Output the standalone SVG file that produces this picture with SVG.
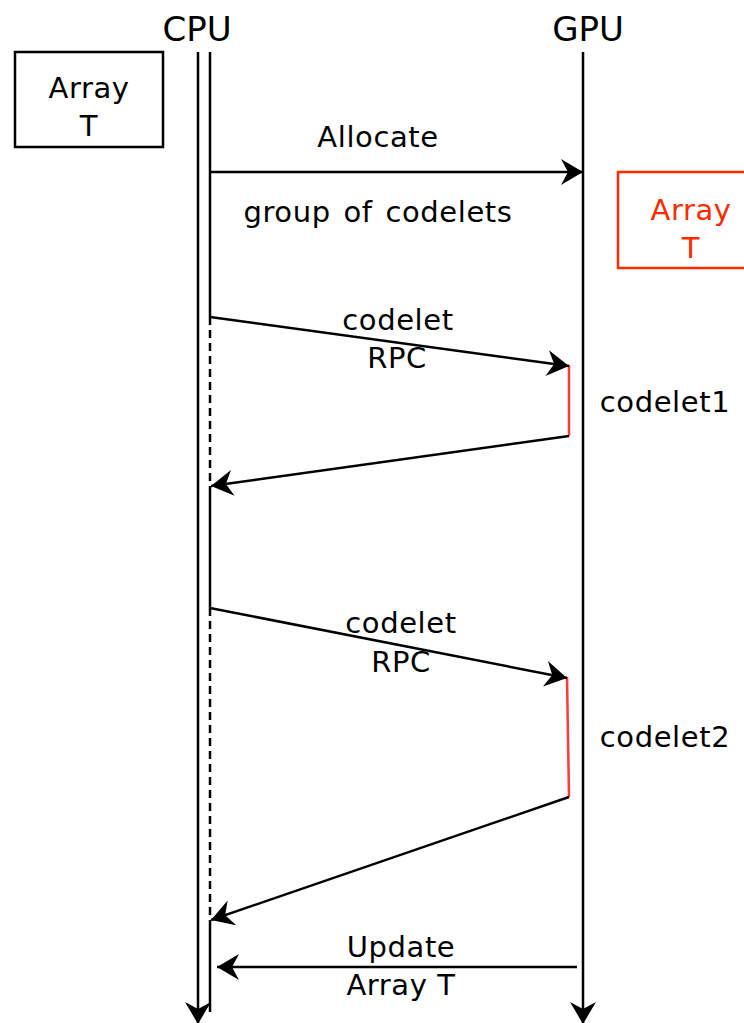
<svg xmlns="http://www.w3.org/2000/svg" width="744" height="1023" viewBox="0 0 744 1023">
<style>
  text { font-family: "DejaVu Sans", "Liberation Sans", sans-serif; font-size: 29px; letter-spacing: 0.6px; fill: #000; text-anchor: middle; }
  .title { font-size: 34px; letter-spacing: 0; }
  .red { fill: #ff2a00; }
  .ln { stroke: #000; stroke-width: 2.5; fill: none; }
  .arr { stroke: #000; stroke-width: 2.5; fill: none; marker-end: url(#ah); }
  .dash { stroke: #000; stroke-width: 2.5; fill: none; stroke-dasharray: 8 5; }
  .act { stroke: #ff3b3b; stroke-width: 2.5; fill: none; }
  .box { fill: #fff; stroke: #000; stroke-width: 2.5; }
  .rbox { fill: #fff; stroke: #ff2a00; stroke-width: 2.5; }
</style>
<defs>
  <marker id="ah" markerUnits="userSpaceOnUse" markerWidth="26" markerHeight="28" refX="22" refY="13" orient="auto" viewBox="0 0 26 28">
    <path d="M22,13 L0,0 L7,13 L0,26 Z" fill="#000"/>
  </marker>
</defs>

<g id="cpu">
  <text class="title" x="197" y="41">CPU</text>
  <line class="arr" x1="198" y1="52" x2="198" y2="1024"/>
  <line class="ln" x1="210" y1="52" x2="210" y2="317"/>
  <line class="dash" x1="210" y1="317" x2="210" y2="486"/>
  <line class="ln" x1="210" y1="486" x2="210" y2="608"/>
  <line class="dash" x1="210" y1="608" x2="210" y2="920"/>
  <line class="ln" x1="210" y1="920" x2="210" y2="1012"/>
</g>

<g id="gpu">
  <text class="title" x="588" y="41">GPU</text>
  <line class="arr" x1="583" y1="52" x2="583" y2="1024"/>
</g>

<g id="array-cpu">
  <rect class="box" x="15" y="52" width="148" height="95"/>
  <text x="89" y="98">Array</text>
  <text x="89" y="136">T</text>
</g>

<g id="array-gpu">
  <rect class="rbox" x="618" y="172" width="144" height="96"/>
  <text class="red" x="691" y="220">Array</text>
  <text class="red" x="691" y="258">T</text>
</g>

<g id="activation1">
  <line class="act" x1="569" y1="365" x2="569" y2="436"/>
  <text x="665" y="412">codelet1</text>
</g>

<g id="activation2">
  <line class="act" x1="567" y1="677" x2="569" y2="797"/>
  <text x="665" y="747">codelet2</text>
</g>

<g id="connectors">
  <line class="arr" x1="210" y1="172" x2="583" y2="172"/>
  <line class="arr" x1="210" y1="317" x2="569" y2="366"/>
  <line class="arr" x1="569" y1="436" x2="211" y2="486"/>
  <line class="arr" x1="210" y1="608" x2="567" y2="678"/>
  <line class="arr" x1="569" y1="797" x2="211" y2="920"/>
  <line class="arr" x1="577" y1="967" x2="217" y2="967"/>
</g>

<g id="labels">
  <text x="378" y="147">Allocate</text>
  <text x="378" y="222" style="word-spacing:3px">group of codelets</text>
  <text x="398" y="330">codelet</text>
  <text x="397" y="368">RPC</text>
  <text x="401" y="633">codelet</text>
  <text x="401" y="672">RPC</text>
  <text x="401" y="957">Update</text>
  <text x="401" y="995">Array T</text>
</g>
</svg>
